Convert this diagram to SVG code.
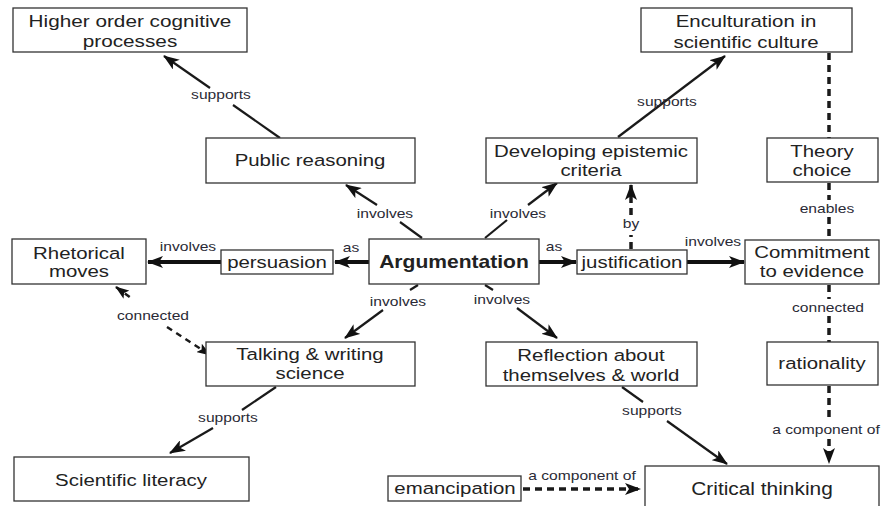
<svg xmlns="http://www.w3.org/2000/svg" width="882" height="506" viewBox="0 0 882 506">
<defs>
<marker id="ah" viewBox="0 0 16 12" refX="15" refY="6" markerWidth="16" markerHeight="12" markerUnits="userSpaceOnUse" orient="auto-start-reverse">
<path d="M0,0 L16,6 L0,12 L4,6 z" fill="#111"/>
</marker>
<marker id="ahs" viewBox="0 0 14 10" refX="13" refY="5" markerWidth="14" markerHeight="10" markerUnits="userSpaceOnUse" orient="auto-start-reverse">
<path d="M0,0 L14,5 L0,10 L3,5 z" fill="#111"/>
</marker>
</defs>
<style>
rect{fill:#fff;stroke:#333;stroke-width:1.3}
.n{font-family:"Liberation Sans",Arial,sans-serif;font-size:17px;fill:#222;text-anchor:middle}
.b{font-weight:bold}
.l{font-family:"Liberation Sans",Arial,sans-serif;font-size:13px;fill:#2a2a35;text-anchor:middle}
.s{stroke:#1a1a1a;stroke-width:2.2;fill:none}
.t{stroke:#111;stroke-width:4;fill:none}
.d{stroke:#1a1a1a;stroke-width:3.5;stroke-dasharray:7 5;fill:none}
.ds{stroke:#1a1a1a;stroke-width:2.5;stroke-dasharray:6 5;fill:none}
</style>
<rect x="0" y="0" width="882" height="506" style="fill:#fff;stroke:none"/>

<g id="connectors">
<line class="s" x1="210" y1="88" x2="164" y2="56" marker-end="url(#ah)"/>
<line class="s" x1="233" y1="105" x2="280" y2="138"/>
<line class="s" x1="377" y1="205" x2="346" y2="185" marker-end="url(#ah)"/>
<line class="s" x1="400" y1="222" x2="422" y2="238"/>
<line class="s" x1="528" y1="205" x2="557" y2="183" marker-end="url(#ah)"/>
<line class="s" x1="507" y1="220" x2="485" y2="238"/>
<line class="s" x1="618" y1="137" x2="725" y2="56" marker-end="url(#ah)"/>
<line class="t" x1="369" y1="262" x2="335" y2="262" marker-end="url(#ah)"/>
<line class="t" x1="221" y1="262" x2="148" y2="262" marker-end="url(#ah)"/>
<line class="t" x1="539" y1="262" x2="576" y2="262" marker-end="url(#ah)"/>
<line class="t" x1="687" y1="262" x2="744" y2="262" marker-end="url(#ah)"/>
<line class="d" x1="631" y1="249" x2="631" y2="235"/>
<line class="d" x1="631" y1="215" x2="631" y2="185" marker-end="url(#ah)"/>
<line class="d" x1="829" y1="53" x2="829" y2="138"/>
<line class="d" x1="829" y1="183" x2="829" y2="200"/>
<line class="d" x1="829" y1="217" x2="829" y2="240"/>
<line class="d" x1="829" y1="285" x2="829" y2="299"/>
<line class="d" x1="829" y1="316" x2="829" y2="342"/>
<line class="d" x1="829" y1="386" x2="829" y2="421"/>
<line class="d" x1="829" y1="439" x2="829" y2="463" marker-end="url(#ah)"/>
<line class="s" x1="418" y1="285" x2="410" y2="290"/>
<line class="s" x1="383" y1="310" x2="345" y2="338" marker-end="url(#ah)"/>
<line class="s" x1="485" y1="285" x2="493" y2="290"/>
<line class="s" x1="517" y1="308" x2="557" y2="338" marker-end="url(#ah)"/>
<line class="ds" x1="116" y1="287" x2="131" y2="298" marker-start="url(#ahs)"/>
<line class="ds" x1="167" y1="327" x2="210" y2="355" marker-end="url(#ahs)"/>
<line class="s" x1="276" y1="387" x2="242" y2="410"/>
<line class="s" x1="213" y1="428" x2="170" y2="453" marker-end="url(#ah)"/>
<line class="s" x1="622" y1="387" x2="643" y2="402"/>
<line class="s" x1="667" y1="421" x2="727" y2="464" marker-end="url(#ah)"/>
<line class="d" x1="523" y1="489" x2="640" y2="489" marker-end="url(#ah)"/>

<text class="l" transform="translate(221 99) scale(1.2 1)">supports</text>
<text class="l" transform="translate(385 218) scale(1.2 1)">involves</text>
<text class="l" transform="translate(518 218) scale(1.2 1)">involves</text>
<text class="l" transform="translate(667 106) scale(1.2 1)">supports</text>
<text class="l" transform="translate(351 252) scale(1.2 1)">as</text>
<text class="l" transform="translate(188 251) scale(1.2 1)">involves</text>
<text class="l" transform="translate(554 251) scale(1.2 1)">as</text>
<text class="l" transform="translate(713 246) scale(1.2 1)">involves</text>
<text class="l" transform="translate(631 228) scale(1.2 1)">by</text>
<text class="l" transform="translate(827 213) scale(1.2 1)">enables</text>
<text class="l" transform="translate(828 312) scale(1.2 1)">connected</text>
<text class="l" transform="translate(826 434) scale(1.2 1)">a component of</text>
<text class="l" transform="translate(398 306) scale(1.2 1)">involves</text>
<text class="l" transform="translate(502 304) scale(1.2 1)">involves</text>
<text class="l" transform="translate(153 320) scale(1.2 1)">connected</text>
<text class="l" transform="translate(228 422) scale(1.2 1)">supports</text>
<text class="l" transform="translate(652 415) scale(1.2 1)">supports</text>
<text class="l" transform="translate(582 480) scale(1.2 1)">a component of</text>
</g>

<g id="hoc"><rect x="13" y="8" width="234" height="44"/>
<text class="n" transform="translate(130 27) scale(1.22 1)">Higher order cognitive</text>
<text class="n" transform="translate(130 47) scale(1.22 1)">processes</text></g>
<g id="public"><rect x="206" y="138" width="209" height="45"/>
<text class="n" transform="translate(310 166) scale(1.2 1)">Public reasoning</text></g>
<g id="encult"><rect x="641" y="8" width="211" height="44"/>
<text class="n" transform="translate(746 27) scale(1.2 1)">Enculturation in</text>
<text class="n" transform="translate(746 48) scale(1.2 1)">scientific culture</text></g>
<g id="epistemic"><rect x="486" y="138" width="211" height="45"/>
<text class="n" transform="translate(591 157) scale(1.2 1)">Developing epistemic</text>
<text class="n" transform="translate(591 176) scale(1.2 1)">criteria</text></g>
<g id="theory"><rect x="767" y="138" width="111" height="44"/>
<text class="n" transform="translate(822 157) scale(1.2 1)">Theory</text>
<text class="n" transform="translate(822 176) scale(1.2 1)">choice</text></g>
<g id="rhetorical"><rect x="12" y="239" width="134" height="45"/>
<text class="n" transform="translate(79 259) scale(1.2 1)">Rhetorical</text>
<text class="n" transform="translate(79 277) scale(1.2 1)">moves</text></g>
<g id="persuasion"><rect x="221" y="250" width="112" height="24"/>
<text class="n" transform="translate(277 268) scale(1.2 1)">persuasion</text></g>
<g id="argumentation"><rect x="369" y="239" width="170" height="45"/>
<text class="n b" transform="translate(454 268) scale(1.17 1)" style="font-size:18px">Argumentation</text></g>
<g id="justification"><rect x="577" y="250" width="110" height="24"/>
<text class="n" transform="translate(632 268) scale(1.2 1)">justification</text></g>
<g id="commitment"><rect x="745" y="240" width="134" height="44"/>
<text class="n" transform="translate(812 258) scale(1.2 1)">Commitment</text>
<text class="n" transform="translate(812 277) scale(1.2 1)">to evidence</text></g>
<g id="talking"><rect x="206" y="342" width="209" height="44"/>
<text class="n" transform="translate(310 360) scale(1.2 1)">Talking &amp; writing</text>
<text class="n" transform="translate(310 379) scale(1.2 1)">science</text></g>
<g id="reflection"><rect x="486" y="342" width="211" height="44"/>
<text class="n" transform="translate(591 361) scale(1.2 1)">Reflection about</text>
<text class="n" transform="translate(591 381) scale(1.2 1)">themselves &amp; world</text></g>
<g id="rationality"><rect x="767" y="342" width="111" height="43"/>
<text class="n" transform="translate(822 369) scale(1.2 1)">rationality</text></g>
<g id="scilit"><rect x="14" y="457" width="235" height="44"/>
<text class="n" transform="translate(131 486) scale(1.2 1)">Scientific literacy</text></g>
<g id="emancipation"><rect x="388" y="476" width="133" height="25"/>
<text class="n" transform="translate(455 494) scale(1.2 1)">emancipation</text></g>
<g id="critical"><rect x="645" y="466" width="234" height="50"/>
<text class="n" transform="translate(762 495) scale(1.16 1)" style="font-size:18px">Critical thinking</text></g>
</svg>
